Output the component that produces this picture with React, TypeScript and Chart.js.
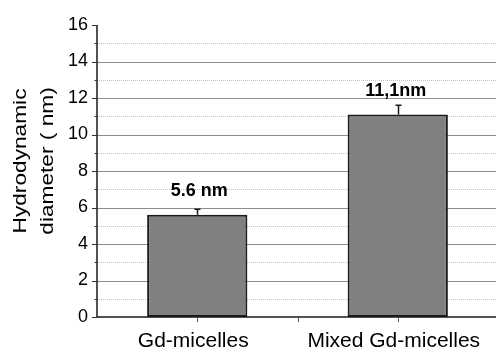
import React, { useEffect, useRef } from 'react';
import { Chart, registerables } from 'chart.js';

Chart.register(...registerables);

const categories = ['Gd-micelles', 'Mixed Gd-micelles'];
const diameters = [5.6, 11.1];
const errors = [0.3, 0.5];
const barLabels = ['5.6 nm', '11,1nm'];
const yMajorTicks = [0, 2, 4, 6, 8, 10, 12, 14, 16];
const yMinorTicks = [1, 3, 5, 7, 9, 11, 13, 15];
const yTitle = ['Hydrodynamic', 'diameter ( nm)'];

const FONT = '"Liberation Sans", Arial, sans-serif';

const decorPlugin = {
  id: 'decor',
  beforeDatasetsDraw(chart: any) {
    const { ctx, chartArea: a } = chart;
    const y = chart.scales.y;
    ctx.save();
    ctx.lineWidth = 1;
    ctx.strokeStyle = '#c2c2c2';
    ctx.setLineDash([1, 1]);
    yMinorTicks.forEach((v) => {
      const py = Math.round(y.getPixelForValue(v)) + 0.5;
      ctx.beginPath();
      ctx.moveTo(a.left, py);
      ctx.lineTo(a.right, py);
      ctx.stroke();
    });
    ctx.setLineDash([]);
    ctx.strokeStyle = '#8e8e8e';
    yMajorTicks
      .filter((v) => v > 0 && v < 16)
      .forEach((v) => {
        const py = Math.round(y.getPixelForValue(v)) + 0.5;
        ctx.beginPath();
        ctx.moveTo(a.left, py);
        ctx.lineTo(a.right, py);
        ctx.stroke();
      });
    ctx.restore();
  },
  afterDatasetsDraw(chart: any) {
    const { ctx, chartArea: a } = chart;
    const x = chart.scales.x;
    const y = chart.scales.y;
    const meta = chart.getDatasetMeta(0);
    ctx.save();
    // error bars (upper half)
    ctx.strokeStyle = '#1a1a1a';
    ctx.lineWidth = 1.5;
    diameters.forEach((v, i) => {
      const bx = Math.round(meta.data[i].x) + 0.5;
      const top = y.getPixelForValue(v + errors[i]);
      const base = y.getPixelForValue(v);
      ctx.beginPath();
      ctx.moveTo(bx, base);
      ctx.lineTo(bx, top);
      ctx.moveTo(bx - 3, top);
      ctx.lineTo(bx + 3, top);
      ctx.stroke();
    });
    // axes
    ctx.strokeStyle = '#1a1a1a';
    ctx.lineWidth = 1.5;
    ctx.beginPath();
    ctx.moveTo(a.left, y.getPixelForValue(16));
    ctx.lineTo(a.left, a.bottom);
    ctx.lineTo(a.right, a.bottom);
    ctx.stroke();
    // y ticks
    ctx.lineWidth = 1;
    ctx.strokeStyle = '#333';
    yMajorTicks.forEach((v) => {
      const py = Math.round(y.getPixelForValue(v)) + 0.5;
      ctx.beginPath();
      ctx.moveTo(a.left - 5, py);
      ctx.lineTo(a.left, py);
      ctx.stroke();
    });
    yMinorTicks.forEach((v) => {
      const py = Math.round(y.getPixelForValue(v)) + 0.5;
      ctx.beginPath();
      ctx.moveTo(a.left - 2.5, py);
      ctx.lineTo(a.left, py);
      ctx.stroke();
    });
    // x ticks
    ctx.strokeStyle = '#555';
    const p0 = x.getPixelForValue(0);
    const p1 = x.getPixelForValue(1);
    [p0, (p0 + p1) / 2, p1].forEach((px) => {
      const qx = Math.round(px) + 0.5;
      ctx.beginPath();
      ctx.moveTo(qx, a.bottom);
      ctx.lineTo(qx, a.bottom + 5);
      ctx.stroke();
    });
    // bar labels
    ctx.fillStyle = '#000';
    ctx.font = `bold 18px ${FONT}`;
    ctx.textAlign = 'center';
    ctx.textBaseline = 'alphabetic';
    barLabels.forEach((t, i) => {
      ctx.fillText(t, meta.data[i].x + (i === 0 ? 2 : -2), y.getPixelForValue(diameters[i]) - 18.5);
    });
    // y title
    ctx.font = `18px ${FONT}`;
    const cy = 161;
    const baselines = [26, 53];
    yTitle.forEach((t, i) => {
      ctx.save();
      ctx.translate(baselines[i], cy);
      ctx.rotate(-Math.PI / 2);
      ctx.scale(1.26, 1);
      ctx.fillText(t, 0, 0);
      ctx.restore();
    });
    ctx.restore();
  },
};

export default function App() {
  const ref = useRef<HTMLCanvasElement>(null);
  useEffect(() => {
    document.body.style.margin = '0';
    const chart = new Chart(ref.current as HTMLCanvasElement, {
      type: 'bar',
      data: {
        labels: categories,
        datasets: [
          {
            data: diameters,
            backgroundColor: '#808080',
            borderColor: '#1a1a1a',
            borderWidth: 2,
            borderSkipped: false,
            barPercentage: 0.5,
            categoryPercentage: 1,
          },
        ],
      },
      options: {
        responsive: false,
        animation: false,
        devicePixelRatio: 1,
        layout: { padding: { top: 25, right: 0, left: 0, bottom: 0 } },
        plugins: { legend: { display: false }, tooltip: { enabled: false } },
        scales: {
          x: {
            offset: true,
            grid: { display: false },
            border: { display: false },
            ticks: {
              color: '#000',
              font: { family: FONT, size: 21 },
              padding: 4,
              labelOffset: -4,
              maxRotation: 0,
              autoSkip: false,
            },
            afterFit: (s: any) => {
              s.height = 35;
            },
          },
          y: {
            min: 0,
            max: 16,
            grid: { display: false },
            border: { display: false },
            ticks: {
              stepSize: 2,
              color: '#000',
              font: { family: FONT, size: 18 },
              padding: 1,
            },
            afterBuildTicks: (s: any) => {
              s.ticks = yMajorTicks.map((v) => ({ value: v }));
            },
            afterFit: (s: any) => {
              s.width = 97;
            },
          },
        },
      },
      plugins: [decorPlugin],
    } as any);
    return () => chart.destroy();
  }, []);
  return (
    <div style={{ width: 496, height: 352, overflow: 'hidden' }}>
      <canvas ref={ref} width={498} height={352} style={{ display: 'block' }} />
    </div>
  );
}
